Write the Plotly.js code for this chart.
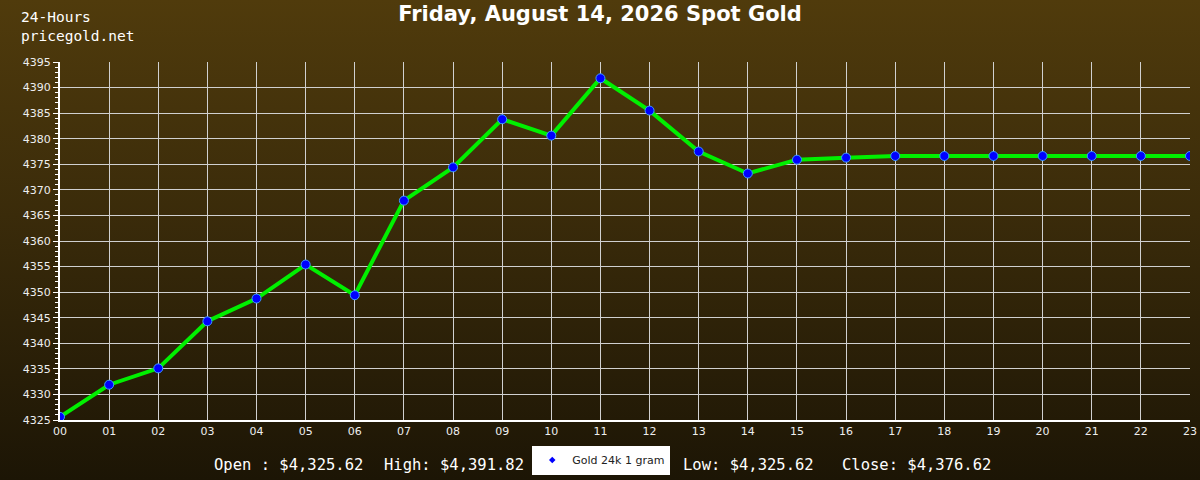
<!DOCTYPE html>
<html>
<head>
<meta charset="utf-8">
<script src="https://cdn.plot.ly/plotly-3.0.1.min.js"></script>
<style>
html,body{margin:0;padding:0;width:1200px;height:480px;overflow:hidden;}
body{background:linear-gradient(to bottom,#503b0c 0%,#3a2b0a 45%,#1c1505 100%);}
#chart{width:1200px;height:480px;}
</style>
</head>
<body>
<div id="chart"></div>
<script>
var hours = [0,1,2,3,4,5,6,7,8,9,10,11,12,13,14,15,16,17,18,19,20,21,22,23];
var hourLabels = ['00','01','02','03','04','05','06','07','08','09','10','11','12','13','14','15','16','17','18','19','20','21','22','23'];
var prices = [4325.62,4331.9,4335.1,4344.3,4348.75,4355.4,4349.4,4367.9,4374.4,4383.8,4380.6,4391.82,4385.5,4377.5,4373.2,4375.9,4376.3,4376.62,4376.62,4376.62,4376.62,4376.62,4376.62,4376.62];
var seriesName = 'Gold 24k 1 gram';
var titleText = 'Friday, August 14, 2026 Spot Gold';
var cornerLines = ['24-Hours', 'pricegold.net'];
var statLabels = ['Open : $4,325.62','High: $4,391.82','Low: $4,325.62','Close: $4,376.62'];
var statX = [0.1345,0.2850,0.5495,0.6905];

var traces = [
  {
    x: hours, y: prices, type: 'scatter', mode: 'lines+markers',
    showlegend: false,
    line: {color: '#00f000', width: 4},
    marker: {color: '#0000ff', size: 9, symbol: 'circle', line: {color: '#3d9bff', width: 1}},
    hoverinfo: 'x+y'
  },
  {
    x: [null], y: [null], type: 'scatter', mode: 'markers',
    name: seriesName, showlegend: true,
    marker: {color: '#0000ff', size: 5, symbol: 'diamond'}
  }
];

var annotations = [
  {
    text: cornerLines.join('<br>'), xref: 'paper', yref: 'paper',
    x: -0.0363, y: 1.099, xanchor: 'left', yanchor: 'middle', align: 'left', showarrow: false,
    font: {family: 'DejaVu Sans Mono', size: 14.5, color: '#ffffff'}
  }
];
for (var i = 0; i < statLabels.length; i++) {
  annotations.push({
    text: statLabels[i], xref: 'paper', yref: 'paper',
    x: statX[i], y: -0.1257, xanchor: 'left', yanchor: 'middle', showarrow: false,
    font: {family: 'DejaVu Sans Mono', size: 15.5, color: '#ffffff'}
  });
}

var layout = {
  width: 1200, height: 480,
  paper_bgcolor: 'rgba(0,0,0,0)',
  plot_bgcolor: 'rgba(0,0,0,0)',
  margin: {l: 60, r: 10, t: 62, b: 60, pad: 0, autoexpand: false},
  title: {
    text: '<b>' + titleText + '</b>',
    x: 0.5, xanchor: 'center', y: 0.971, yanchor: 'middle',
    font: {family: 'DejaVu Sans', size: 21, color: '#ffffff'}
  },
  xaxis: {
    range: [0, 23], tickvals: hours, ticktext: hourLabels,
    showgrid: true, gridcolor: '#d0d0d0', gridwidth: 1,
    showline: true, linecolor: '#ffffff', linewidth: 2,
    ticks: '', zeroline: false,
    tickfont: {family: 'DejaVu Sans', size: 11, color: '#eeeeee'}
  },
  yaxis: {
    range: [4325, 4395], dtick: 5, tick0: 4325,
    showgrid: true, gridcolor: '#d0d0d0', gridwidth: 1,
    showline: true, linecolor: '#ffffff', linewidth: 2,
    ticks: 'outside', ticklen: 5, tickcolor: '#ffffff', tickwidth: 1,
    minor: {dtick: 1, ticks: 'outside', ticklen: 3, tickcolor: '#ffffff', tickwidth: 1, showgrid: false},
    zeroline: false,
    tickfont: {family: 'DejaVu Sans', size: 11, color: '#eeeeee'}
  },
  legend: {
    orientation: 'h', x: 0.479, xanchor: 'center', y: -0.112, yanchor: 'middle',
    bgcolor: '#ffffff', borderwidth: 0,
    font: {family: 'DejaVu Sans', size: 11, color: '#222222'},
    itemwidth: 30
  },
  annotations: annotations,
  hovermode: 'closest'
};

Plotly.newPlot('chart', traces, layout, {displayModeBar: false, staticPlot: true});
</script>
</body>
</html>
